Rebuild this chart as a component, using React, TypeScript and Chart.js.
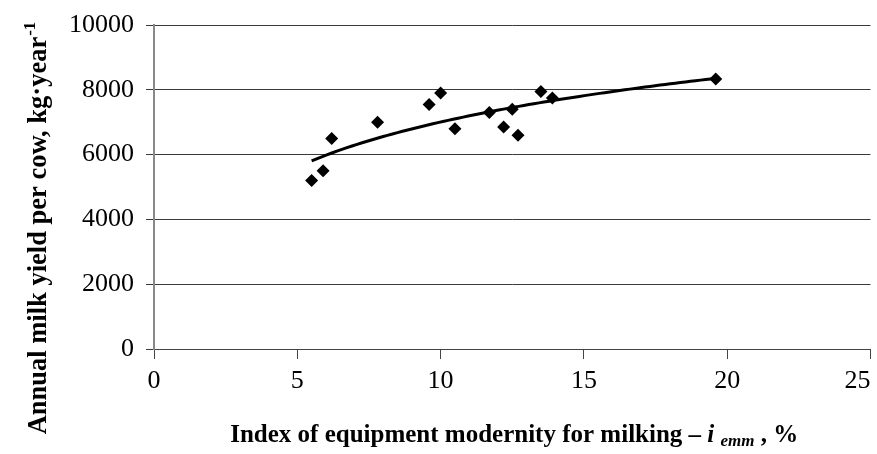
import React, { useEffect, useRef } from "react";
import { Chart, registerables } from "chart.js";

Chart.register(...registerables);

// ---- data ----
const equipmentIndex = [5.5, 5.9, 6.2, 7.8, 9.6, 10.0, 10.5, 11.7, 12.2, 12.5, 12.7, 13.5, 13.9, 19.6];
const milkYield = [5200, 5500, 6500, 7000, 7550, 7900, 6800, 7300, 6850, 7400, 6600, 7950, 7750, 8330];
const xTickValues = [0, 5, 10, 15, 20, 25];
const yTickValues = [0, 2000, 4000, 6000, 8000, 10000];
const yTitleMain = "Annual milk yield per cow, kg·year";
const yTitleSup = "-1";
const xTitleMain = "Index of equipment modernity for milking – ";
const xTitleVar = "i";
const xTitleSub = "emm";
const xTitleEnd = " , %";

const SERIF = '"Liberation Serif", "Times New Roman", serif';

// logarithmic trend line (least squares fit of the data, like a spreadsheet trendline)
function logTrend(xs: number[], ys: number[], steps: number) {
  const lx = xs.map((v) => Math.log(v));
  const n = xs.length;
  const mx = lx.reduce((s, v) => s + v, 0) / n;
  const my = ys.reduce((s, v) => s + v, 0) / n;
  let sxy = 0;
  let sxx = 0;
  for (let i = 0; i < n; i++) {
    sxy += (lx[i] - mx) * (ys[i] - my);
    sxx += (lx[i] - mx) * (lx[i] - mx);
  }
  const a = sxy / sxx;
  const b = my - a * mx;
  const lo = Math.min(...xs);
  const hi = Math.max(...xs);
  const pts: { x: number; y: number }[] = [];
  for (let i = 0; i <= steps; i++) {
    const x = lo + ((hi - lo) * i) / steps;
    pts.push({ x, y: a * Math.log(x) + b });
  }
  return pts;
}

const titlesPlugin = {
  id: "customTitles",
  afterDraw(chart: any) {
    const ctx = chart.ctx as CanvasRenderingContext2D;
    const area = chart.chartArea;
    ctx.save();
    ctx.fillStyle = "#000";
    ctx.textBaseline = "alphabetic";
    ctx.textAlign = "left";

    // x title
    const fMain = `bold 25px ${SERIF}`;
    const fVar = `italic bold 25px ${SERIF}`;
    const fSub = `italic bold 17px ${SERIF}`;
    ctx.font = fMain;
    const wMain = ctx.measureText(xTitleMain).width;
    const wEnd = ctx.measureText(xTitleEnd).width;
    const wSpace = ctx.measureText(" ").width;
    ctx.font = fVar;
    const wVar = ctx.measureText(xTitleVar).width;
    ctx.font = fSub;
    const wSub = ctx.measureText(xTitleSub).width;
    const total = wMain + wVar + wSpace + wSub + wEnd;
    const cx = (area.left + area.right) / 2 + 2;
    let x = cx - total / 2;
    const base = 442;
    ctx.font = fMain;
    ctx.fillText(xTitleMain, x, base);
    x += wMain;
    ctx.font = fVar;
    ctx.fillText(xTitleVar, x, base);
    x += wVar + wSpace;
    ctx.font = fSub;
    ctx.fillText(xTitleSub, x, base + 4);
    x += wSub;
    ctx.font = fMain;
    ctx.fillText(xTitleEnd, x, base);

    // y title (rotated)
    const fY = `bold 26.5px ${SERIF}`;
    const fSup = `bold 17px ${SERIF}`;
    ctx.font = fY;
    const wy = ctx.measureText(yTitleMain).width;
    ctx.font = fSup;
    const wsup = ctx.measureText(yTitleSup).width;
    const ytot = wy + wsup + 1;
    ctx.translate(46, 228);
    ctx.rotate(-Math.PI / 2);
    ctx.font = fY;
    ctx.fillText(yTitleMain, -ytot / 2, 0);
    ctx.font = fSup;
    ctx.fillText(yTitleSup, -ytot / 2 + wy + 1, -11);
    ctx.restore();
  },
};

export default function App() {
  const canvasRef = useRef<HTMLCanvasElement | null>(null);

  useEffect(() => {
    if (!canvasRef.current) return;
    const points = equipmentIndex.map((x, i) => ({ x, y: milkYield[i] }));
    const trend = logTrend(equipmentIndex, milkYield, 80);
    const lastX = xTickValues[xTickValues.length - 1];

    const chart = new Chart(canvasRef.current, {
      type: "scatter",
      data: {
        datasets: [
          {
            label: "Trend",
            type: "line",
            data: trend,
            borderColor: "#000",
            borderWidth: 3,
            pointRadius: 0,
            fill: false,
            tension: 0,
            order: 2,
          } as any,
          {
            label: "Milk yield",
            data: points,
            pointStyle: "rectRot",
            pointRadius: 6.5,
            backgroundColor: "#000",
            borderColor: "#000",
            borderWidth: 0,
            order: 1,
          },
        ],
      },
      options: {
        responsive: true,
        maintainAspectRatio: false,
        animation: false,
        layout: { padding: { left: 0, right: 3, top: 25, bottom: 0 } },
        plugins: {
          legend: { display: false },
          tooltip: { enabled: false },
          title: { display: false },
        },
        scales: {
          x: {
            type: "linear",
            min: xTickValues[0],
            max: lastX,
            afterBuildTicks: (s: any) => {
              s.ticks = xTickValues.map((v) => ({ value: v }));
            },
            ticks: {
              font: { family: SERIF, size: 26 },
              color: "#000",
              padding: 7,
              maxRotation: 0,
              autoSkip: false,
              callback: (v: any) => (v === lastX ? String(v) + "\u00a0\u00a0\u00a0\u00a0" : String(v)),
            },
            grid: {
              display: true,
              drawOnChartArea: false,
              drawTicks: true,
              tickLength: 10,
              color: "#444",
              lineWidth: 1,
            },
            border: { color: "#444", width: 1 },
            afterFit: (s: any) => {
              s.height = 105;
              s.paddingLeft = 0;
              s.paddingRight = 0;
            },
          },
          y: {
            type: "linear",
            min: yTickValues[0],
            max: yTickValues[yTickValues.length - 1],
            afterBuildTicks: (s: any) => {
              s.ticks = yTickValues.map((v) => ({ value: v }));
            },
            ticks: {
              font: { family: SERIF, size: 26 },
              color: "#000",
              padding: 12,
              autoSkip: false,
              callback: (v: any) => String(v),
            },
            grid: {
              display: true,
              drawTicks: true,
              tickLength: 8,
              color: "#3a3a3a",
              lineWidth: 1,
            },
            border: { color: "#888", width: 2 },
            afterFit: (s: any) => {
              s.width = 154;
              s.paddingTop = 0;
              s.paddingBottom = 0;
            },
          },
        },
      },
      plugins: [titlesPlugin],
    });
    return () => chart.destroy();
  }, []);

  return (
    <div style={{ position: "fixed", left: 0, top: 0, width: 877, height: 454, background: "#fff" }}>
      <canvas ref={canvasRef} />
    </div>
  );
}
